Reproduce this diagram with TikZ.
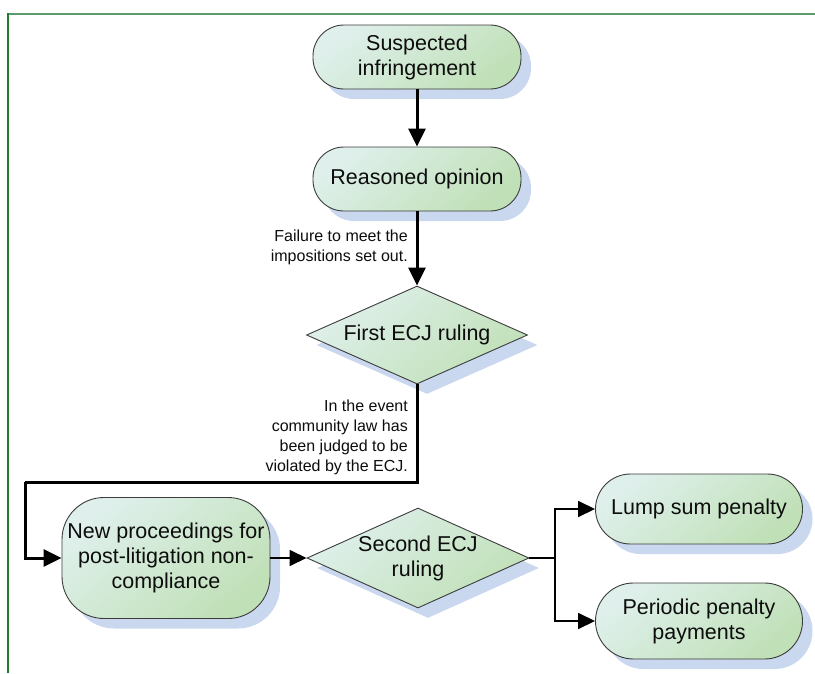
\documentclass[tikz,border=0pt]{standalone}
\usepackage{fontspec}
\setmainfont{Liberation Sans}
\usetikzlibrary{arrows.meta,shapes.geometric,shadows}
\definecolor{frametop}{HTML}{5E9B6C}
\definecolor{frameleft}{HTML}{1F7A2F}
\definecolor{nodeA}{HTML}{DFF0EC}
\definecolor{nodeB}{HTML}{C0E0B7}
\definecolor{shadowc}{HTML}{C9D8EE}
\definecolor{edgec}{HTML}{3C3C3C}

\tikzset{
  flow/.style={draw=edgec, line width=0.9pt, top color=nodeA, bottom color=nodeB,
    shading angle=40, font=\fontsize{21.5}{25}\selectfont, align=center,
    text=black!95, inner sep=1pt,
    drop shadow={shadow xshift=10pt, shadow yshift=-10pt, fill=shadowc, opacity=1}},
  term/.style={flow, rectangle, rounded corners=31pt, minimum width=208pt, minimum height=64pt},
  decision/.style={flow, diamond, aspect=2.25, inner sep=0pt, minimum width=221pt, minimum height=98pt},
  lbl/.style={font=\fontsize{16}{20}\selectfont, align=right, anchor=east, inner sep=0pt, text=black!95},
  thickarrow/.style={line width=3pt, -{Triangle[length=18pt,width=17pt]}},
  thickline/.style={line width=3pt},
  thinarrow/.style={line width=1.6pt, -{Triangle[length=17pt,width=16pt]}},
  thinline/.style={line width=1.6pt}
}

\begin{document}
\begin{tikzpicture}[x=1pt, y=-1pt]
\useasboundingbox (0,0) rectangle (815,673);
\fill[white] (0,0) rectangle (815,673);
\draw[frametop, line width=2pt] (8,14) -- (815,14);
\draw[frameleft, line width=2pt] (8,13) -- (8,673);

\node[term] (sus) at (417,57) {Suspected\\infringement};
\node[term] (reas) at (417,179) {Reasoned opinion};
\node[decision] (first) at (417,335) {First ECJ ruling};
\node[term, rounded corners=42pt, minimum height=121pt] (newp) at (166,558)
  {New proceedings for\\post-litigation non-\\compliance};
\node[decision, minimum width=222pt, minimum height=100pt] (second) at (418,558) {Second ECJ\\ruling};
\node[term, minimum width=207pt, minimum height=70pt, rounded corners=35pt] (lump) at (699,509) {Lump sum penalty};
\node[term, minimum width=207pt, minimum height=76pt, rounded corners=38pt] (peri) at (699,621) {Periodic penalty\\payments};

\node[lbl] (l1) at (408,247) {Failure to meet the\\impositions set out.};
\node[lbl] (l2) at (408,437) {In the event\\community law has\\been judged to be\\violated by the ECJ.};

\coordinate (c2) at (25,482);
\coordinate (j) at (555,558);

\draw[thickarrow] (sus) -- (reas);
\draw[thickarrow] (reas) -- (first);
\draw[thickline] (first.south) |- (c2);
\draw[thickarrow] (c2) |- (newp.west);
\draw[thinarrow] (newp) -- (second);
\draw[thinline] (second.east) -- (j);
\draw[thinarrow] (j) |- (lump.west);
\draw[thinarrow] (j) |- (peri.west);
\end{tikzpicture}
\end{document}
